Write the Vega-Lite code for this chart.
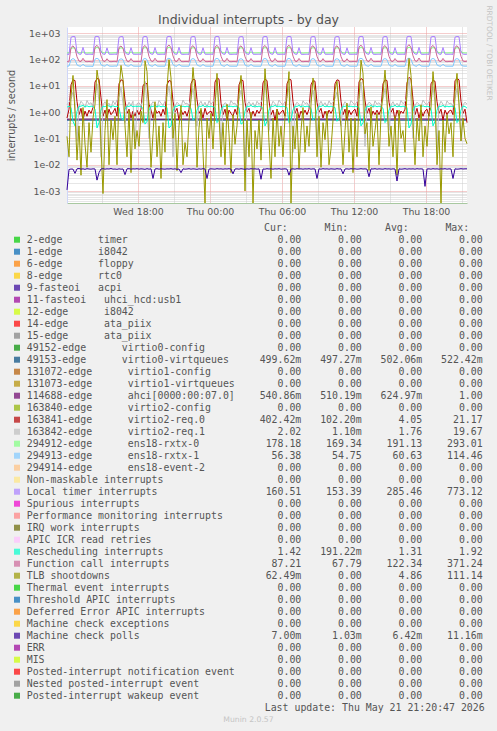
{
  "$schema": "https://vega.github.io/schema/vega-lite/v6.json",
  "width": 400,
  "height": 176,
  "autosize": {"type": "none"},
  "padding": {"left": 67, "top": 27, "right": 30, "bottom": 528},
  "background": "#F0F0F0",
  "title": {"text": "Individual interrupts - by day", "font": "DejaVu Sans", "fontSize": 12.5, "fontWeight": "normal", "color": "#505050", "anchor": "middle", "frame": "group", "baseline": "alphabetic", "offset": 4, "dx": -18.5, "dy": 36},
  "config": {"view": {"fill": "#FFFFFF", "stroke": null}},
  "datasets": {
    "flat": [
      {"t":"2026-05-20T12:05","v0":0.50,"ah":0.54},
      {"t":"2026-05-20T16:05","v0":0.50,"ah":0.55},
      {"t":"2026-05-20T20:05","v0":0.51,"ah":0.54},
      {"t":"2026-05-21T00:05","v0":0.50,"ah":0.55},
      {"t":"2026-05-21T04:05","v0":0.50,"ah":0.54},
      {"t":"2026-05-21T08:05","v0":0.51,"ah":0.55},
      {"t":"2026-05-21T12:05","v0":0.50,"ah":0.54},
      {"t":"2026-05-21T16:05","v0":0.50,"ah":0.55},
      {"t":"2026-05-21T21:25","v0":0.50,"ah":0.54}
    ],
    "main": [
      {"t":"2026-05-20T12:05","lt":161,"rx0":181,"fc":84,"rx1":56,"r0":0.6,"r1":1.9,"rs":1.55,"tlb":0.12,"mc":0.0011},
      {"t":"2026-05-20T12:15","lt":158,"rx0":178,"fc":82,"rx1":57,"r0":1.3,"r1":2.4,"rs":1.7,"tlb":0.02,"mc":0.0066},
      {"t":"2026-05-20T12:25","lt":705,"rx0":262,"fc":285,"rx1":98,"r0":11,"r1":3.2,"rs":1.5,"tlb":4,"mc":0.0069},
      {"t":"2026-05-20T12:35","lt":760,"rx0":284,"fc":335,"rx1":110,"r0":17,"r1":6,"rs":0.45,"tlb":25,"mc":0.0068},
      {"t":"2026-05-20T12:45","lt":745,"rx0":268,"fc":265,"rx1":99,"r0":16,"r1":2.2,"rs":0.3,"tlb":0.9,"mc":0.0047},
      {"t":"2026-05-20T12:55","lt":188,"rx0":204,"fc":128,"rx1":63,"r0":2.5,"r1":0.08,"rs":1.1,"tlb":0.015,"mc":0.0070},
      {"t":"2026-05-20T13:05","lt":162,"rx0":183,"fc":88,"rx1":57,"r0":0.8,"r1":1.7,"rs":1.65,"tlb":0.3,"mc":0.0072},
      {"t":"2026-05-20T13:15","lt":159,"rx0":179,"fc":84,"rx1":56,"r0":1.4,"r1":2.6,"rs":1.7,"tlb":0.004,"mc":0.0068},
      {"t":"2026-05-20T13:25","lt":292,"rx0":197,"fc":112,"rx1":67,"r0":0.5,"r1":2.1,"rs":1.8,"tlb":1.5,"mc":0.0070},
      {"t":"2026-05-20T13:35","lt":163,"rx0":182,"fc":86,"rx1":57,"r0":1.1,"r1":1.5,"rs":1.6,"tlb":0.06,"mc":0.0067},
      {"t":"2026-05-20T13:45","lt":158,"rx0":177,"fc":83,"rx1":56,"r0":0.7,"r1":2.8,"rs":1.75,"tlb":0.008,"mc":0.0071},
      {"t":"2026-05-20T13:55","lt":161,"rx0":180,"fc":85,"rx1":56,"r0":1.2,"r1":2.0,"rs":1.6,"tlb":0.4,"mc":0.0069},
      {"t":"2026-05-20T14:05","lt":160,"rx0":179,"fc":83,"rx1":56,"r0":0.9,"r1":2.3,"rs":1.7,"tlb":0.03,"mc":0.0068},
      {"t":"2026-05-20T14:15","lt":157,"rx0":177,"fc":81,"rx1":55,"r0":1.5,"r1":1.6,"rs":1.65,"tlb":0.6,"mc":0.0070},
      {"t":"2026-05-20T14:25","lt":740,"rx0":270,"fc":300,"rx1":104,"r0":14,"r1":4.5,"rs":1.3,"tlb":2,"mc":0.0069},
      {"t":"2026-05-20T14:35","lt":770,"rx0":290,"fc":350,"rx1":112,"r0":19,"r1":12,"rs":0.25,"tlb":40,"mc":0.0026},
      {"t":"2026-05-20T14:45","lt":730,"rx0":275,"fc":280,"rx1":101,"r0":18,"r1":2.6,"rs":0.4,"tlb":12,"mc":0.0050},
      {"t":"2026-05-20T14:55","lt":195,"rx0":210,"fc":140,"rx1":64,"r0":3.5,"r1":0.02,"rs":1.2,"tlb":0.05,"mc":0.0069},
      {"t":"2026-05-20T15:05","lt":163,"rx0":184,"fc":90,"rx1":58,"r0":0.7,"r1":1.9,"rs":1.7,"tlb":0.0008,"mc":0.0071},
      {"t":"2026-05-20T15:15","lt":158,"rx0":178,"fc":84,"rx1":56,"r0":1.2,"r1":2.5,"rs":1.6,"tlb":0.2,"mc":0.0068},
      {"t":"2026-05-20T15:25","lt":280,"rx0":194,"fc":108,"rx1":66,"r0":0.6,"r1":1.8,"rs":1.85,"tlb":3,"mc":0.0070},
      {"t":"2026-05-20T15:35","lt":161,"rx0":181,"fc":86,"rx1":57,"r0":1.3,"r1":2.2,"rs":1.7,"tlb":0.01,"mc":0.0069},
      {"t":"2026-05-20T15:45","lt":159,"rx0":178,"fc":83,"rx1":56,"r0":0.8,"r1":1.4,"rs":1.6,"tlb":0.5,"mc":0.0072},
      {"t":"2026-05-20T15:55","lt":160,"rx0":180,"fc":85,"rx1":56,"r0":1.0,"r1":2.7,"rs":1.75,"tlb":0.09,"mc":0.0068},
      {"t":"2026-05-20T16:05","lt":162,"rx0":182,"fc":86,"rx1":57,"r0":1.4,"r1":2.0,"rs":1.6,"tlb":0.7,"mc":0.0069},
      {"t":"2026-05-20T16:15","lt":158,"rx0":178,"fc":82,"rx1":56,"r0":0.7,"r1":2.9,"rs":1.7,"tlb":0.01,"mc":0.0067},
      {"t":"2026-05-20T16:25","lt":700,"rx0":260,"fc":290,"rx1":97,"r0":12,"r1":3.8,"rs":1.5,"tlb":6,"mc":0.0070},
      {"t":"2026-05-20T16:35","lt":755,"rx0":282,"fc":330,"rx1":108,"r0":17,"r1":9,"rs":0.6,"tlb":60,"mc":0.0068},
      {"t":"2026-05-20T16:45","lt":740,"rx0":270,"fc":270,"rx1":100,"r0":16,"r1":2.1,"rs":0.5,"tlb":18,"mc":0.0069},
      {"t":"2026-05-20T16:55","lt":185,"rx0":202,"fc":135,"rx1":62,"r0":2.8,"r1":0.4,"rs":1.3,"tlb":0.3,"mc":0.0042},
      {"t":"2026-05-20T17:05","lt":161,"rx0":182,"fc":87,"rx1":57,"r0":0.9,"r1":1.6,"rs":1.7,"tlb":0.02,"mc":0.0070},
      {"t":"2026-05-20T17:15","lt":157,"rx0":177,"fc":83,"rx1":56,"r0":1.3,"r1":2.4,"rs":1.65,"tlb":1.2,"mc":0.0071},
      {"t":"2026-05-20T17:25","lt":285,"rx0":196,"fc":110,"rx1":66,"r0":0.6,"r1":1.8,"rs":1.8,"tlb":0.005,"mc":0.0068},
      {"t":"2026-05-20T17:35","lt":162,"rx0":181,"fc":85,"rx1":57,"r0":1.1,"r1":2.6,"rs":1.6,"tlb":0.8,"mc":0.0070},
      {"t":"2026-05-20T17:45","lt":159,"rx0":178,"fc":84,"rx1":56,"r0":0.7,"r1":0.05,"rs":1.7,"tlb":0.04,"mc":0.0069},
      {"t":"2026-05-20T17:55","lt":160,"rx0":180,"fc":85,"rx1":56,"r0":1.2,"r1":2.1,"rs":1.65,"tlb":0.2,"mc":0.0071},
      {"t":"2026-05-20T18:05","lt":161,"rx0":181,"fc":85,"rx1":56,"r0":0.8,"r1":2.3,"rs":1.7,"tlb":0.05,"mc":0.0068},
      {"t":"2026-05-20T18:15","lt":158,"rx0":177,"fc":82,"rx1":56,"r0":1.3,"r1":1.7,"rs":1.6,"tlb":1.1,"mc":0.0070},
      {"t":"2026-05-20T18:25","lt":720,"rx0":268,"fc":295,"rx1":102,"r0":10,"r1":3,"rs":1.4,"tlb":0.4,"mc":0.0069},
      {"t":"2026-05-20T18:35","lt":765,"rx0":288,"fc":345,"rx1":111,"r0":13,"r1":15,"rs":0.35,"tlb":90,"mc":0.0067},
      {"t":"2026-05-20T18:45","lt":735,"rx0":272,"fc":275,"rx1":100,"r0":12,"r1":2.4,"rs":0.45,"tlb":35,"mc":0.0071},
      {"t":"2026-05-20T18:55","lt":190,"rx0":206,"fc":132,"rx1":63,"r0":2,"r1":0.1,"rs":1.2,"tlb":0.6,"mc":0.0068},
      {"t":"2026-05-20T19:05","lt":163,"rx0":183,"fc":89,"rx1":57,"r0":1.2,"r1":1.9,"rs":1.7,"tlb":0.008,"mc":0.0070},
      {"t":"2026-05-20T19:15","lt":159,"rx0":179,"fc":84,"rx1":56,"r0":0.6,"r1":2.5,"rs":1.65,"tlb":0.15,"mc":0.0030},
      {"t":"2026-05-20T19:25","lt":288,"rx0":198,"fc":113,"rx1":67,"r0":1.4,"r1":2.0,"rs":1.8,"tlb":2.5,"mc":0.0069},
      {"t":"2026-05-20T19:35","lt":162,"rx0":182,"fc":86,"rx1":57,"r0":0.9,"r1":1.5,"rs":1.6,"tlb":0.02,"mc":0.0071},
      {"t":"2026-05-20T19:45","lt":158,"rx0":177,"fc":83,"rx1":56,"r0":1.1,"r1":2.8,"rs":1.75,"tlb":0.3,"mc":0.0068},
      {"t":"2026-05-20T19:55","lt":160,"rx0":180,"fc":85,"rx1":56,"r0":0.7,"r1":2.2,"rs":1.6,"tlb":0.003,"mc":0.0070},
      {"t":"2026-05-20T20:05","lt":161,"rx0":181,"fc":85,"rx1":56,"r0":1.3,"r1":1.8,"rs":1.7,"tlb":0.4,"mc":0.0069},
      {"t":"2026-05-20T20:15","lt":158,"rx0":178,"fc":82,"rx1":56,"r0":0.8,"r1":2.6,"rs":1.6,"tlb":0.03,"mc":0.0068},
      {"t":"2026-05-20T20:25","lt":730,"rx0":272,"fc":305,"rx1":105,"r0":11,"r1":4,"rs":1.5,"tlb":8,"mc":0.0070},
      {"t":"2026-05-20T20:35","lt":770,"rx0":292,"fc":360,"rx1":113,"r0":16,"r1":10,"rs":0.25,"tlb":100,"mc":0.0069},
      {"t":"2026-05-20T20:45","lt":745,"rx0":274,"fc":285,"rx1":102,"r0":15,"r1":2.5,"rs":0.3,"tlb":20,"mc":0.0071},
      {"t":"2026-05-20T20:55","lt":192,"rx0":208,"fc":138,"rx1":64,"r0":2.6,"r1":0.02,"rs":1.1,"tlb":0.1,"mc":0.0068},
      {"t":"2026-05-20T21:05","lt":162,"rx0":183,"fc":88,"rx1":57,"r0":1.0,"r1":1.7,"rs":1.7,"tlb":0.9,"mc":0.0070},
      {"t":"2026-05-20T21:15","lt":159,"rx0":178,"fc":84,"rx1":56,"r0":1.4,"r1":2.4,"rs":1.65,"tlb":0.006,"mc":0.0067},
      {"t":"2026-05-20T21:25","lt":295,"rx0":199,"fc":114,"rx1":67,"r0":0.5,"r1":2.0,"rs":1.85,"tlb":0.3,"mc":0.0069},
      {"t":"2026-05-20T21:35","lt":163,"rx0":182,"fc":86,"rx1":57,"r0":1.2,"r1":1.6,"rs":1.6,"tlb":1.8,"mc":0.0050},
      {"t":"2026-05-20T21:45","lt":158,"rx0":177,"fc":83,"rx1":56,"r0":0.8,"r1":2.9,"rs":1.7,"tlb":0.01,"mc":0.0070},
      {"t":"2026-05-20T21:55","lt":160,"rx0":180,"fc":85,"rx1":56,"r0":1.1,"r1":2.1,"rs":1.6,"tlb":0.07,"mc":0.0068},
      {"t":"2026-05-20T22:05","lt":161,"rx0":181,"fc":85,"rx1":56,"r0":0.7,"r1":2.2,"rs":1.7,"tlb":0.02,"mc":0.0069},
      {"t":"2026-05-20T22:15","lt":158,"rx0":178,"fc":82,"rx1":56,"r0":1.3,"r1":1.8,"rs":1.6,"tlb":0.5,"mc":0.0071},
      {"t":"2026-05-20T22:25","lt":715,"rx0":266,"fc":292,"rx1":101,"r0":12,"r1":3.5,"rs":1.4,"tlb":3,"mc":0.0068},
      {"t":"2026-05-20T22:35","lt":760,"rx0":286,"fc":340,"rx1":110,"r0":18,"r1":8,"rs":0.5,"tlb":50,"mc":0.0070},
      {"t":"2026-05-20T22:45","lt":740,"rx0":270,"fc":272,"rx1":100,"r0":17,"r1":2.3,"rs":0.6,"tlb":6,"mc":0.0069},
      {"t":"2026-05-20T22:55","lt":187,"rx0":204,"fc":130,"rx1":63,"r0":3,"r1":0.3,"rs":1.2,"tlb":0.008,"mc":0.0067},
      {"t":"2026-05-20T23:05","lt":162,"rx0":183,"fc":88,"rx1":57,"r0":0.9,"r1":2.0,"rs":1.7,"tlb":0.25,"mc":0.0070},
      {"t":"2026-05-20T23:15","lt":158,"rx0":178,"fc":84,"rx1":56,"r0":1.2,"r1":2.6,"rs":1.65,"tlb":1.4,"mc":0.0068},
      {"t":"2026-05-20T23:25","lt":283,"rx0":195,"fc":109,"rx1":66,"r0":0.6,"r1":1.7,"rs":1.8,"tlb":0.03,"mc":0.0071},
      {"t":"2026-05-20T23:35","lt":161,"rx0":181,"fc":86,"rx1":57,"r0":1.4,"r1":2.4,"rs":1.6,"tlb":0.0002,"mc":0.0069},
      {"t":"2026-05-20T23:45","lt":159,"rx0":178,"fc":83,"rx1":56,"r0":0.8,"r1":1.5,"rs":1.75,"tlb":0.6,"mc":0.0030},
      {"t":"2026-05-20T23:55","lt":160,"rx0":180,"fc":85,"rx1":56,"r0":1.0,"r1":2.7,"rs":1.6,"tlb":0.1,"mc":0.0068},
      {"t":"2026-05-21T00:05","lt":161,"rx0":181,"fc":85,"rx1":56,"r0":1.1,"r1":2.0,"rs":1.7,"tlb":0.9,"mc":0.0070},
      {"t":"2026-05-21T00:15","lt":158,"rx0":177,"fc":82,"rx1":56,"r0":0.7,"r1":2.5,"rs":1.6,"tlb":0.04,"mc":0.0069},
      {"t":"2026-05-21T00:25","lt":725,"rx0":270,"fc":298,"rx1":103,"r0":14,"r1":3.2,"rs":1.5,"tlb":1.5,"mc":0.0068},
      {"t":"2026-05-21T00:35","lt":768,"rx0":289,"fc":350,"rx1":112,"r0":20,"r1":11,"rs":0.4,"tlb":30,"mc":0.0071},
      {"t":"2026-05-21T00:45","lt":738,"rx0":272,"fc":278,"rx1":101,"r0":18,"r1":2.4,"rs":0.5,"tlb":0.7,"mc":0.0069},
      {"t":"2026-05-21T00:55","lt":190,"rx0":205,"fc":134,"rx1":63,"r0":2.2,"r1":0.06,"rs":1.2,"tlb":0.02,"mc":0.0070},
      {"t":"2026-05-21T01:05","lt":163,"rx0":183,"fc":89,"rx1":57,"r0":0.8,"r1":1.8,"rs":1.7,"tlb":0.4,"mc":0.0068},
      {"t":"2026-05-21T01:15","lt":159,"rx0":178,"fc":84,"rx1":56,"r0":1.3,"r1":2.3,"rs":1.65,"tlb":0.01,"mc":0.0070},
      {"t":"2026-05-21T01:25","lt":290,"rx0":197,"fc":112,"rx1":67,"r0":0.5,"r1":2.0,"rs":1.8,"tlb":2,"mc":0.0069},
      {"t":"2026-05-21T01:35","lt":162,"rx0":182,"fc":86,"rx1":57,"r0":1.2,"r1":1.6,"rs":1.6,"tlb":0.15,"mc":0.0071},
      {"t":"2026-05-21T01:45","lt":158,"rx0":177,"fc":83,"rx1":56,"r0":0.9,"r1":2.8,"rs":1.7,"tlb":0.005,"mc":0.0068},
      {"t":"2026-05-21T01:55","lt":160,"rx0":180,"fc":85,"rx1":56,"r0":0.7,"r1":2.1,"rs":1.6,"tlb":0.8,"mc":0.0045},
      {"t":"2026-05-21T02:05","lt":161,"rx0":181,"fc":85,"rx1":56,"r0":1.3,"r1":2.2,"rs":1.7,"tlb":0.06,"mc":0.0069},
      {"t":"2026-05-21T02:15","lt":158,"rx0":178,"fc":82,"rx1":56,"r0":0.8,"r1":1.7,"rs":1.6,"tlb":0.3,"mc":0.0070},
      {"t":"2026-05-21T02:25","lt":710,"rx0":264,"fc":290,"rx1":100,"r0":11,"r1":3,"rs":1.5,"tlb":5,"mc":0.0068},
      {"t":"2026-05-21T02:35","lt":755,"rx0":284,"fc":335,"rx1":109,"r0":17,"r1":7,"rs":0.35,"tlb":25,"mc":0.0071},
      {"t":"2026-05-21T02:45","lt":735,"rx0":270,"fc":268,"rx1":99,"r0":16,"r1":2.2,"rs":0.4,"tlb":2,"mc":0.0069},
      {"t":"2026-05-21T02:55","lt":186,"rx0":203,"fc":128,"rx1":62,"r0":2.4,"r1":0.01,"rs":1.1,"tlb":0.001,"mc":0.0067},
      {"t":"2026-05-21T03:05","lt":162,"rx0":182,"fc":87,"rx1":57,"r0":1.0,"r1":1.9,"rs":1.7,"tlb":0.5,"mc":0.0070},
      {"t":"2026-05-21T03:15","lt":158,"rx0":178,"fc":84,"rx1":56,"r0":1.4,"r1":2.5,"rs":1.65,"tlb":0.02,"mc":0.0068},
      {"t":"2026-05-21T03:25","lt":286,"rx0":196,"fc":110,"rx1":66,"r0":0.6,"r1":1.8,"rs":1.8,"tlb":1,"mc":0.0071},
      {"t":"2026-05-21T03:35","lt":161,"rx0":181,"fc":85,"rx1":57,"r0":1.1,"r1":2.3,"rs":1.6,"tlb":0.0002,"mc":0.0069},
      {"t":"2026-05-21T03:45","lt":159,"rx0":178,"fc":83,"rx1":56,"r0":0.7,"r1":1.5,"rs":1.75,"tlb":0.2,"mc":0.0070},
      {"t":"2026-05-21T03:55","lt":160,"rx0":180,"fc":85,"rx1":56,"r0":1.2,"r1":2.6,"rs":1.6,"tlb":0.04,"mc":0.0068},
      {"t":"2026-05-21T04:05","lt":161,"rx0":181,"fc":85,"rx1":56,"r0":0.9,"r1":2.0,"rs":1.7,"tlb":0.5,"mc":0.0070},
      {"t":"2026-05-21T04:15","lt":158,"rx0":177,"fc":82,"rx1":56,"r0":1.3,"r1":2.4,"rs":1.6,"tlb":0.015,"mc":0.0028},
      {"t":"2026-05-21T04:25","lt":722,"rx0":268,"fc":296,"rx1":102,"r0":13,"r1":3.4,"rs":1.4,"tlb":0.8,"mc":0.0069},
      {"t":"2026-05-21T04:35","lt":762,"rx0":287,"fc":345,"rx1":111,"r0":18,"r1":13,"rs":0.3,"tlb":45,"mc":0.0068},
      {"t":"2026-05-21T04:45","lt":742,"rx0":272,"fc":276,"rx1":101,"r0":16,"r1":2.5,"rs":0.45,"tlb":3,"mc":0.0071},
      {"t":"2026-05-21T04:55","lt":189,"rx0":205,"fc":133,"rx1":63,"r0":2.7,"r1":0.2,"rs":1.2,"tlb":0.07,"mc":0.0069},
      {"t":"2026-05-21T05:05","lt":163,"rx0":183,"fc":88,"rx1":57,"r0":0.8,"r1":1.7,"rs":1.7,"tlb":0.003,"mc":0.0070},
      {"t":"2026-05-21T05:15","lt":159,"rx0":178,"fc":84,"rx1":56,"r0":1.2,"r1":2.6,"rs":1.65,"tlb":0.6,"mc":0.0068},
      {"t":"2026-05-21T05:25","lt":289,"rx0":197,"fc":111,"rx1":67,"r0":0.5,"r1":2.1,"rs":1.8,"tlb":0.02,"mc":0.0070},
      {"t":"2026-05-21T05:35","lt":162,"rx0":182,"fc":86,"rx1":57,"r0":1.3,"r1":1.6,"rs":1.6,"tlb":1.3,"mc":0.0069},
      {"t":"2026-05-21T05:45","lt":158,"rx0":177,"fc":83,"rx1":56,"r0":0.8,"r1":2.9,"rs":1.7,"tlb":0.05,"mc":0.0071},
      {"t":"2026-05-21T05:55","lt":160,"rx0":180,"fc":85,"rx1":56,"r0":1.0,"r1":2.2,"rs":1.6,"tlb":0.3,"mc":0.0068},
      {"t":"2026-05-21T06:05","lt":161,"rx0":181,"fc":85,"rx1":56,"r0":1.2,"r1":1.9,"rs":1.7,"tlb":0.02,"mc":0.0069},
      {"t":"2026-05-21T06:15","lt":158,"rx0":178,"fc":82,"rx1":56,"r0":0.7,"r1":2.5,"rs":1.6,"tlb":0.7,"mc":0.0070},
      {"t":"2026-05-21T06:25","lt":728,"rx0":270,"fc":300,"rx1":103,"r0":12,"r1":3.6,"rs":1.5,"tlb":4,"mc":0.0068},
      {"t":"2026-05-21T06:35","lt":765,"rx0":289,"fc":352,"rx1":112,"r0":18,"r1":9,"rs":0.4,"tlb":35,"mc":0.0040},
      {"t":"2026-05-21T06:45","lt":740,"rx0":272,"fc":280,"rx1":101,"r0":17,"r1":2.3,"rs":0.5,"tlb":0.0002,"mc":0.0069},
      {"t":"2026-05-21T06:55","lt":191,"rx0":206,"fc":136,"rx1":63,"r0":2.5,"r1":0.03,"rs":1.2,"tlb":0.3,"mc":0.0070},
      {"t":"2026-05-21T07:05","lt":162,"rx0":183,"fc":88,"rx1":57,"r0":0.9,"r1":1.8,"rs":1.7,"tlb":0.04,"mc":0.0068},
      {"t":"2026-05-21T07:15","lt":159,"rx0":178,"fc":84,"rx1":56,"r0":1.4,"r1":2.4,"rs":1.65,"tlb":0.9,"mc":0.0071},
      {"t":"2026-05-21T07:25","lt":287,"rx0":196,"fc":111,"rx1":66,"r0":0.6,"r1":2.0,"rs":1.8,"tlb":0.007,"mc":0.0069},
      {"t":"2026-05-21T07:35","lt":161,"rx0":181,"fc":86,"rx1":57,"r0":1.1,"r1":1.5,"rs":1.6,"tlb":0.2,"mc":0.0070},
      {"t":"2026-05-21T07:45","lt":158,"rx0":177,"fc":83,"rx1":56,"r0":0.8,"r1":2.7,"rs":1.75,"tlb":1.5,"mc":0.0068},
      {"t":"2026-05-21T07:55","lt":160,"rx0":180,"fc":85,"rx1":56,"r0":1.2,"r1":2.1,"rs":1.6,"tlb":0.03,"mc":0.0070},
      {"t":"2026-05-21T08:05","lt":161,"rx0":181,"fc":85,"rx1":56,"r0":0.8,"r1":2.3,"rs":1.7,"tlb":0.3,"mc":0.0069},
      {"t":"2026-05-21T08:15","lt":158,"rx0":178,"fc":82,"rx1":56,"r0":1.3,"r1":1.7,"rs":1.6,"tlb":0.05,"mc":0.0071},
      {"t":"2026-05-21T08:25","lt":718,"rx0":266,"fc":294,"rx1":101,"r0":11,"r1":3.1,"rs":1.4,"tlb":2,"mc":0.0068},
      {"t":"2026-05-21T08:35","lt":758,"rx0":285,"fc":338,"rx1":110,"r0":16,"r1":7,"rs":0.5,"tlb":20,"mc":0.0070},
      {"t":"2026-05-21T08:45","lt":738,"rx0":270,"fc":270,"rx1":100,"r0":15,"r1":2.2,"rs":0.6,"tlb":6,"mc":0.0069},
      {"t":"2026-05-21T08:55","lt":188,"rx0":204,"fc":131,"rx1":63,"r0":2.3,"r1":0.08,"rs":1.2,"tlb":0.02,"mc":0.0030},
      {"t":"2026-05-21T09:05","lt":162,"rx0":183,"fc":88,"rx1":57,"r0":1.0,"r1":1.9,"rs":1.7,"tlb":0.7,"mc":0.0070},
      {"t":"2026-05-21T09:15","lt":158,"rx0":178,"fc":84,"rx1":56,"r0":1.4,"r1":2.6,"rs":1.65,"tlb":0.008,"mc":0.0068},
      {"t":"2026-05-21T09:25","lt":284,"rx0":195,"fc":109,"rx1":66,"r0":0.6,"r1":1.8,"rs":1.8,"tlb":0.4,"mc":0.0071},
      {"t":"2026-05-21T09:35","lt":161,"rx0":181,"fc":85,"rx1":57,"r0":1.1,"r1":2.3,"rs":1.6,"tlb":0.09,"mc":0.0069},
      {"t":"2026-05-21T09:45","lt":159,"rx0":178,"fc":83,"rx1":56,"r0":0.7,"r1":1.6,"rs":1.7,"tlb":1.1,"mc":0.0070},
      {"t":"2026-05-21T09:55","lt":160,"rx0":180,"fc":85,"rx1":56,"r0":1.2,"r1":2.7,"rs":1.6,"tlb":0.01,"mc":0.0068},
      {"t":"2026-05-21T10:05","lt":161,"rx0":181,"fc":85,"rx1":56,"r0":0.9,"r1":2.0,"rs":1.7,"tlb":0.04,"mc":0.0070},
      {"t":"2026-05-21T10:15","lt":158,"rx0":177,"fc":82,"rx1":56,"r0":1.3,"r1":2.4,"rs":1.6,"tlb":0.5,"mc":0.0069},
      {"t":"2026-05-21T10:25","lt":712,"rx0":265,"fc":292,"rx1":100,"r0":12,"r1":3.3,"rs":1.5,"tlb":7,"mc":0.0068},
      {"t":"2026-05-21T10:35","lt":755,"rx0":284,"fc":335,"rx1":109,"r0":17,"r1":6,"rs":0.45,"tlb":15,"mc":0.0071},
      {"t":"2026-05-21T10:45","lt":736,"rx0":270,"fc":268,"rx1":99,"r0":16,"r1":2.1,"rs":0.55,"tlb":1.2,"mc":0.0069},
      {"t":"2026-05-21T10:55","lt":186,"rx0":203,"fc":129,"rx1":62,"r0":2.6,"r1":0.3,"rs":1.2,"tlb":0.3,"mc":0.0070},
      {"t":"2026-05-21T11:05","lt":162,"rx0":182,"fc":87,"rx1":57,"r0":0.8,"r1":1.8,"rs":1.7,"tlb":0.01,"mc":0.0045},
      {"t":"2026-05-21T11:15","lt":158,"rx0":178,"fc":84,"rx1":56,"r0":1.3,"r1":2.5,"rs":1.65,"tlb":0.2,"mc":0.0069},
      {"t":"2026-05-21T11:25","lt":282,"rx0":195,"fc":108,"rx1":66,"r0":0.5,"r1":2.0,"rs":1.8,"tlb":2.2,"mc":0.0070},
      {"t":"2026-05-21T11:35","lt":161,"rx0":181,"fc":85,"rx1":57,"r0":1.2,"r1":1.6,"rs":1.6,"tlb":0.03,"mc":0.0068},
      {"t":"2026-05-21T11:45","lt":159,"rx0":178,"fc":83,"rx1":56,"r0":0.8,"r1":2.8,"rs":1.7,"tlb":0.6,"mc":0.0071},
      {"t":"2026-05-21T11:55","lt":160,"rx0":180,"fc":85,"rx1":56,"r0":1.1,"r1":2.2,"rs":1.6,"tlb":0.005,"mc":0.0069},
      {"t":"2026-05-21T12:05","lt":161,"rx0":181,"fc":85,"rx1":56,"r0":1.3,"r1":1.9,"rs":1.7,"tlb":0.6,"mc":0.0070},
      {"t":"2026-05-21T12:15","lt":158,"rx0":178,"fc":82,"rx1":56,"r0":0.7,"r1":2.5,"rs":1.6,"tlb":0.02,"mc":0.0068},
      {"t":"2026-05-21T12:25","lt":725,"rx0":270,"fc":300,"rx1":104,"r0":14,"r1":3.5,"rs":1.5,"tlb":3,"mc":0.0069},
      {"t":"2026-05-21T12:35","lt":768,"rx0":290,"fc":355,"rx1":113,"r0":19,"r1":14,"rs":0.3,"tlb":95,"mc":0.0071},
      {"t":"2026-05-21T12:45","lt":742,"rx0":274,"fc":282,"rx1":102,"r0":17,"r1":2.6,"rs":0.4,"tlb":30,"mc":0.0069},
      {"t":"2026-05-21T12:55","lt":191,"rx0":207,"fc":137,"rx1":64,"r0":2.8,"r1":0.05,"rs":1.1,"tlb":0.15,"mc":0.0070},
      {"t":"2026-05-21T13:05","lt":163,"rx0":183,"fc":89,"rx1":57,"r0":0.9,"r1":1.8,"rs":1.7,"tlb":0.4,"mc":0.0068},
      {"t":"2026-05-21T13:15","lt":159,"rx0":178,"fc":84,"rx1":56,"r0":1.4,"r1":2.4,"rs":1.65,"tlb":0.006,"mc":0.0035},
      {"t":"2026-05-21T13:25","lt":291,"rx0":198,"fc":113,"rx1":67,"r0":0.6,"r1":2.1,"rs":1.8,"tlb":1.6,"mc":0.0070},
      {"t":"2026-05-21T13:35","lt":162,"rx0":182,"fc":86,"rx1":57,"r0":1.1,"r1":1.5,"rs":1.6,"tlb":0.05,"mc":0.0069},
      {"t":"2026-05-21T13:45","lt":158,"rx0":177,"fc":83,"rx1":56,"r0":0.8,"r1":2.7,"rs":1.75,"tlb":0.2,"mc":0.0071},
      {"t":"2026-05-21T13:55","lt":160,"rx0":180,"fc":85,"rx1":56,"r0":1.2,"r1":2.0,"rs":1.6,"tlb":0.9,"mc":0.0068},
      {"t":"2026-05-21T14:05","lt":161,"rx0":181,"fc":85,"rx1":56,"r0":0.8,"r1":2.3,"rs":1.7,"tlb":0.01,"mc":0.0070},
      {"t":"2026-05-21T14:15","lt":158,"rx0":178,"fc":82,"rx1":56,"r0":1.3,"r1":1.8,"rs":1.6,"tlb":0.8,"mc":0.0069},
      {"t":"2026-05-21T14:25","lt":715,"rx0":267,"fc":293,"rx1":101,"r0":12,"r1":3.2,"rs":1.4,"tlb":5,"mc":0.0068},
      {"t":"2026-05-21T14:35","lt":760,"rx0":286,"fc":342,"rx1":110,"r0":17,"r1":8,"rs":0.4,"tlb":40,"mc":0.0071},
      {"t":"2026-05-21T14:45","lt":738,"rx0":271,"fc":272,"rx1":100,"r0":16,"r1":2.3,"rs":0.5,"tlb":3,"mc":0.0069},
      {"t":"2026-05-21T14:55","lt":188,"rx0":204,"fc":132,"rx1":63,"r0":2.4,"r1":0.2,"rs":1.2,"tlb":0.05,"mc":0.0070},
      {"t":"2026-05-21T15:05","lt":162,"rx0":183,"fc":88,"rx1":57,"r0":1.0,"r1":1.9,"rs":1.7,"tlb":0.3,"mc":0.0068},
      {"t":"2026-05-21T15:15","lt":158,"rx0":178,"fc":84,"rx1":56,"r0":1.4,"r1":2.5,"rs":1.65,"tlb":0.02,"mc":0.0070},
      {"t":"2026-05-21T15:25","lt":286,"rx0":196,"fc":110,"rx1":66,"r0":0.5,"r1":1.7,"rs":1.8,"tlb":0.7,"mc":0.0069},
      {"t":"2026-05-21T15:35","lt":161,"rx0":181,"fc":86,"rx1":57,"r0":1.2,"r1":2.2,"rs":1.6,"tlb":0.004,"mc":0.0024},
      {"t":"2026-05-21T15:45","lt":159,"rx0":178,"fc":83,"rx1":56,"r0":0.7,"r1":1.6,"rs":1.7,"tlb":1.2,"mc":0.0070},
      {"t":"2026-05-21T15:55","lt":160,"rx0":180,"fc":85,"rx1":56,"r0":1.1,"r1":2.8,"rs":1.6,"tlb":0.1,"mc":0.0068},
      {"t":"2026-05-21T16:05","lt":161,"rx0":181,"fc":85,"rx1":56,"r0":0.9,"r1":2.1,"rs":1.7,"tlb":0.2,"mc":0.0069},
      {"t":"2026-05-21T16:15","lt":158,"rx0":177,"fc":82,"rx1":56,"r0":1.3,"r1":2.5,"rs":1.6,"tlb":0.03,"mc":0.0071},
      {"t":"2026-05-21T16:25","lt":735,"rx0":272,"fc":305,"rx1":105,"r0":13,"r1":3.8,"rs":1.5,"tlb":9,"mc":0.0068},
      {"t":"2026-05-21T16:35","lt":773,"rx0":293,"fc":371,"rx1":114,"r0":21,"r1":19.6,"rs":0.25,"tlb":111,"mc":0.0070},
      {"t":"2026-05-21T16:45","lt":748,"rx0":276,"fc":290,"rx1":103,"r0":18,"r1":2.7,"rs":0.35,"tlb":25,"mc":0.0069},
      {"t":"2026-05-21T16:55","lt":194,"rx0":209,"fc":140,"rx1":64,"r0":3,"r1":0.1,"rs":1.1,"tlb":0.4,"mc":0.0070},
      {"t":"2026-05-21T17:05","lt":163,"rx0":184,"fc":90,"rx1":57,"r0":0.8,"r1":1.8,"rs":1.7,"tlb":0.01,"mc":0.0068},
      {"t":"2026-05-21T17:15","lt":159,"rx0":179,"fc":85,"rx1":56,"r0":1.4,"r1":2.4,"rs":1.65,"tlb":0.6,"mc":0.0071},
      {"t":"2026-05-21T17:25","lt":293,"rx0":199,"fc":115,"rx1":67,"r0":0.6,"r1":2.0,"rs":1.8,"tlb":0.08,"mc":0.0069},
      {"t":"2026-05-21T17:35","lt":162,"rx0":182,"fc":86,"rx1":57,"r0":1.2,"r1":1.6,"rs":1.6,"tlb":1.9,"mc":0.0070},
      {"t":"2026-05-21T17:45","lt":158,"rx0":177,"fc":83,"rx1":56,"r0":0.7,"r1":2.9,"rs":1.75,"tlb":0.02,"mc":0.0068},
      {"t":"2026-05-21T17:55","lt":160,"rx0":180,"fc":85,"rx1":56,"r0":1.1,"r1":2.2,"rs":1.6,"tlb":0.3,"mc":0.0015},
      {"t":"2026-05-21T18:05","lt":161,"rx0":181,"fc":85,"rx1":56,"r0":1.3,"r1":1.9,"rs":1.7,"tlb":0.05,"mc":0.0069},
      {"t":"2026-05-21T18:15","lt":158,"rx0":178,"fc":82,"rx1":56,"r0":0.7,"r1":2.5,"rs":1.6,"tlb":0.9,"mc":0.0070},
      {"t":"2026-05-21T18:25","lt":720,"rx0":268,"fc":296,"rx1":102,"r0":12,"r1":3.3,"rs":1.4,"tlb":1.5,"mc":0.0068},
      {"t":"2026-05-21T18:35","lt":762,"rx0":287,"fc":346,"rx1":111,"r0":16,"r1":9,"rs":0.3,"tlb":35,"mc":0.0071},
      {"t":"2026-05-21T18:45","lt":740,"rx0":272,"fc":276,"rx1":101,"r0":15,"r1":2.4,"rs":0.45,"tlb":4,"mc":0.0069},
      {"t":"2026-05-21T18:55","lt":189,"rx0":205,"fc":134,"rx1":63,"r0":2.5,"r1":0.04,"rs":1.2,"tlb":0.01,"mc":0.0070},
      {"t":"2026-05-21T19:05","lt":162,"rx0":183,"fc":88,"rx1":57,"r0":0.9,"r1":1.8,"rs":1.7,"tlb":0.2,"mc":0.0068},
      {"t":"2026-05-21T19:15","lt":158,"rx0":178,"fc":84,"rx1":56,"r0":1.3,"r1":2.6,"rs":1.65,"tlb":0.0002,"mc":0.0070},
      {"t":"2026-05-21T19:25","lt":288,"rx0":197,"fc":111,"rx1":67,"r0":0.5,"r1":2.0,"rs":1.8,"tlb":0.5,"mc":0.0069},
      {"t":"2026-05-21T19:35","lt":161,"rx0":181,"fc":86,"rx1":57,"r0":1.2,"r1":1.5,"rs":1.6,"tlb":0.03,"mc":0.0071},
      {"t":"2026-05-21T19:45","lt":159,"rx0":178,"fc":83,"rx1":56,"r0":0.8,"r1":2.7,"rs":1.7,"tlb":0.8,"mc":0.0068},
      {"t":"2026-05-21T19:55","lt":160,"rx0":180,"fc":85,"rx1":56,"r0":1.1,"r1":2.1,"rs":1.6,"tlb":0.15,"mc":0.0070},
      {"t":"2026-05-21T20:05","lt":161,"rx0":181,"fc":85,"rx1":56,"r0":1.2,"r1":2.2,"rs":1.7,"tlb":0.4,"mc":0.0069},
      {"t":"2026-05-21T20:15","lt":158,"rx0":178,"fc":82,"rx1":56,"r0":0.8,"r1":1.7,"rs":1.6,"tlb":0.02,"mc":0.0030},
      {"t":"2026-05-21T20:25","lt":715,"rx0":266,"fc":292,"rx1":101,"r0":16,"r1":3.1,"rs":1.5,"tlb":6,"mc":0.0070},
      {"t":"2026-05-21T20:35","lt":758,"rx0":285,"fc":338,"rx1":110,"r0":19,"r1":8,"rs":0.4,"tlb":30,"mc":0.0068},
      {"t":"2026-05-21T20:45","lt":738,"rx0":271,"fc":270,"rx1":100,"r0":17,"r1":2.3,"rs":0.5,"tlb":2,"mc":0.0069},
      {"t":"2026-05-21T20:55","lt":190,"rx0":205,"fc":133,"rx1":63,"r0":2.6,"r1":0.08,"rs":1.2,"tlb":0.08,"mc":0.0071},
      {"t":"2026-05-21T21:05","lt":162,"rx0":182,"fc":88,"rx1":57,"r0":0.9,"r1":1.9,"rs":1.7,"tlb":0.6,"mc":0.0069},
      {"t":"2026-05-21T21:15","lt":158,"rx0":178,"fc":84,"rx1":56,"r0":1.3,"r1":2.4,"rs":1.65,"tlb":0.1,"mc":0.0070},
      {"t":"2026-05-21T21:25","lt":160.5,"rx0":178.2,"fc":87.2,"rx1":56.4,"r0":0.4,"r1":2.02,"rs":1.42,"tlb":0.0625,"mc":0.0070}
    ],
    "table": [
      {"label":"2-edge\u00a0\u00a0\u00a0\u00a0\u00a0\u00a0timer","cur":"0.00\u00a0","min":"0.00\u00a0","avg":"0.00\u00a0","max":"0.00\u00a0"},
      {"label":"1-edge\u00a0\u00a0\u00a0\u00a0\u00a0\u00a0i8042","cur":"0.00\u00a0","min":"0.00\u00a0","avg":"0.00\u00a0","max":"0.00\u00a0"},
      {"label":"6-edge\u00a0\u00a0\u00a0\u00a0\u00a0\u00a0floppy","cur":"0.00\u00a0","min":"0.00\u00a0","avg":"0.00\u00a0","max":"0.00\u00a0"},
      {"label":"8-edge\u00a0\u00a0\u00a0\u00a0\u00a0\u00a0rtc0","cur":"0.00\u00a0","min":"0.00\u00a0","avg":"0.00\u00a0","max":"0.00\u00a0"},
      {"label":"9-fasteoi\u00a0\u00a0\u00a0acpi","cur":"0.00\u00a0","min":"0.00\u00a0","avg":"0.00\u00a0","max":"0.00\u00a0"},
      {"label":"11-fasteoi\u00a0\u00a0\u00a0uhci_hcd:usb1","cur":"0.00\u00a0","min":"0.00\u00a0","avg":"0.00\u00a0","max":"0.00\u00a0"},
      {"label":"12-edge\u00a0\u00a0\u00a0\u00a0\u00a0\u00a0i8042","cur":"0.00\u00a0","min":"0.00\u00a0","avg":"0.00\u00a0","max":"0.00\u00a0"},
      {"label":"14-edge\u00a0\u00a0\u00a0\u00a0\u00a0\u00a0ata_piix","cur":"0.00\u00a0","min":"0.00\u00a0","avg":"0.00\u00a0","max":"0.00\u00a0"},
      {"label":"15-edge\u00a0\u00a0\u00a0\u00a0\u00a0\u00a0ata_piix","cur":"0.00\u00a0","min":"0.00\u00a0","avg":"0.00\u00a0","max":"0.00\u00a0"},
      {"label":"49152-edge\u00a0\u00a0\u00a0\u00a0\u00a0\u00a0virtio0-config","cur":"0.00\u00a0","min":"0.00\u00a0","avg":"0.00\u00a0","max":"0.00\u00a0"},
      {"label":"49153-edge\u00a0\u00a0\u00a0\u00a0\u00a0\u00a0virtio0-virtqueues","cur":"499.62m","min":"497.27m","avg":"502.06m","max":"522.42m"},
      {"label":"131072-edge\u00a0\u00a0\u00a0\u00a0\u00a0\u00a0virtio1-config","cur":"0.00\u00a0","min":"0.00\u00a0","avg":"0.00\u00a0","max":"0.00\u00a0"},
      {"label":"131073-edge\u00a0\u00a0\u00a0\u00a0\u00a0\u00a0virtio1-virtqueues","cur":"0.00\u00a0","min":"0.00\u00a0","avg":"0.00\u00a0","max":"0.00\u00a0"},
      {"label":"114688-edge\u00a0\u00a0\u00a0\u00a0\u00a0\u00a0ahci[0000:00:07.0]","cur":"540.86m","min":"510.19m","avg":"624.97m","max":"1.00\u00a0"},
      {"label":"163840-edge\u00a0\u00a0\u00a0\u00a0\u00a0\u00a0virtio2-config","cur":"0.00\u00a0","min":"0.00\u00a0","avg":"0.00\u00a0","max":"0.00\u00a0"},
      {"label":"163841-edge\u00a0\u00a0\u00a0\u00a0\u00a0\u00a0virtio2-req.0","cur":"402.42m","min":"102.20m","avg":"4.05\u00a0","max":"21.17\u00a0"},
      {"label":"163842-edge\u00a0\u00a0\u00a0\u00a0\u00a0\u00a0virtio2-req.1","cur":"2.02\u00a0","min":"1.10m","avg":"1.76\u00a0","max":"19.67\u00a0"},
      {"label":"294912-edge\u00a0\u00a0\u00a0\u00a0\u00a0\u00a0ens18-rxtx-0","cur":"178.18\u00a0","min":"169.34\u00a0","avg":"191.13\u00a0","max":"293.01\u00a0"},
      {"label":"294913-edge\u00a0\u00a0\u00a0\u00a0\u00a0\u00a0ens18-rxtx-1","cur":"56.38\u00a0","min":"54.75\u00a0","avg":"60.63\u00a0","max":"114.46\u00a0"},
      {"label":"294914-edge\u00a0\u00a0\u00a0\u00a0\u00a0\u00a0ens18-event-2","cur":"0.00\u00a0","min":"0.00\u00a0","avg":"0.00\u00a0","max":"0.00\u00a0"},
      {"label":"Non-maskable interrupts","cur":"0.00\u00a0","min":"0.00\u00a0","avg":"0.00\u00a0","max":"0.00\u00a0"},
      {"label":"Local timer interrupts","cur":"160.51\u00a0","min":"153.39\u00a0","avg":"285.46\u00a0","max":"773.12\u00a0"},
      {"label":"Spurious interrupts","cur":"0.00\u00a0","min":"0.00\u00a0","avg":"0.00\u00a0","max":"0.00\u00a0"},
      {"label":"Performance monitoring interrupts","cur":"0.00\u00a0","min":"0.00\u00a0","avg":"0.00\u00a0","max":"0.00\u00a0"},
      {"label":"IRQ work interrupts","cur":"0.00\u00a0","min":"0.00\u00a0","avg":"0.00\u00a0","max":"0.00\u00a0"},
      {"label":"APIC ICR read retries","cur":"0.00\u00a0","min":"0.00\u00a0","avg":"0.00\u00a0","max":"0.00\u00a0"},
      {"label":"Rescheduling interrupts","cur":"1.42\u00a0","min":"191.22m","avg":"1.31\u00a0","max":"1.92\u00a0"},
      {"label":"Function call interrupts","cur":"87.21\u00a0","min":"67.79\u00a0","avg":"122.34\u00a0","max":"371.24\u00a0"},
      {"label":"TLB shootdowns","cur":"62.49m","min":"0.00\u00a0","avg":"4.86\u00a0","max":"111.14\u00a0"},
      {"label":"Thermal event interrupts","cur":"0.00\u00a0","min":"0.00\u00a0","avg":"0.00\u00a0","max":"0.00\u00a0"},
      {"label":"Threshold APIC interrupts","cur":"0.00\u00a0","min":"0.00\u00a0","avg":"0.00\u00a0","max":"0.00\u00a0"},
      {"label":"Deferred Error APIC interrupts","cur":"0.00\u00a0","min":"0.00\u00a0","avg":"0.00\u00a0","max":"0.00\u00a0"},
      {"label":"Machine check exceptions","cur":"0.00\u00a0","min":"0.00\u00a0","avg":"0.00\u00a0","max":"0.00\u00a0"},
      {"label":"Machine check polls","cur":"7.00m","min":"1.03m","avg":"6.42m","max":"11.16m"},
      {"label":"ERR","cur":"0.00\u00a0","min":"0.00\u00a0","avg":"0.00\u00a0","max":"0.00\u00a0"},
      {"label":"MIS","cur":"0.00\u00a0","min":"0.00\u00a0","avg":"0.00\u00a0","max":"0.00\u00a0"},
      {"label":"Posted-interrupt notification event","cur":"0.00\u00a0","min":"0.00\u00a0","avg":"0.00\u00a0","max":"0.00\u00a0"},
      {"label":"Nested posted-interrupt event","cur":"0.00\u00a0","min":"0.00\u00a0","avg":"0.00\u00a0","max":"0.00\u00a0"},
      {"label":"Posted-interrupt wakeup event","cur":"0.00\u00a0","min":"0.00\u00a0","avg":"0.00\u00a0","max":"0.00\u00a0"}
    ]
  },
  "layer": [
    {
      "encoding": {
        "x": {
          "field": "t", "type": "temporal",
          "scale": {"domain": [{"year": 2026, "month": 5, "date": 20, "hours": 12, "minutes": 5}, {"year": 2026, "month": 5, "date": 21, "hours": 21, "minutes": 25}]},
          "axis": {
            "tickCount": "hour",
            "labelExpr": "hours(datum.value) % 6 == 0 ? timeFormat(datum.value, '%a %H:%M') : ''",
            "labelOverlap": false, "labelFlush": false,
            "labelFont": "DejaVu Sans", "labelFontSize": 9.4, "labelColor": "#555555", "labelPadding": 4,
            "grid": true, "gridDash": [1, 1],
            "gridColor": {"condition": {"test": "hours(datum.value) % 2 == 0", "value": "#EB9A9A"}, "value": "#CCCCCC"},
            "ticks": false,
            "domainColor": "#A8C8A0",
            "title": "Munin 2.0.57", "titleFont": "DejaVu Sans", "titleFontSize": 7.7, "titleFontWeight": "normal", "titleColor": "#C4C4C4",
            "titleX": 181, "titleY": 516, "titleAlign": "center", "titleBaseline": "middle"
          }
        },
        "y": {
          "field": "v", "type": "quantitative",
          "scale": {"type": "log", "domain": [0.00035, 1740], "clamp": true},
          "axis": {
            "values": [0.0004,0.0005,0.0006,0.0007,0.0008,0.0009,0.001,0.002,0.003,0.004,0.005,0.006,0.007,0.008,0.009,0.01,0.02,0.03,0.04,0.05,0.06,0.07,0.08,0.09,0.1,0.2,0.3,0.4,0.5,0.6,0.7,0.8,0.9,1,2,3,4,5,6,7,8,9,10,20,30,40,50,60,70,80,90,100,200,300,400,500,600,700,800,900,1000],
            "labelExpr": "abs(log(datum.value)/LN10 - round(log(datum.value)/LN10)) < 0.001 ? '1e' + (datum.value >= 1 ? '+0' : '-0') + abs(round(log(datum.value)/LN10)) : ''",
            "labelOverlap": false, "labelFlush": false,
            "labelFont": "DejaVu Sans", "labelFontSize": 9.4, "labelColor": "#555555", "labelPadding": 7,
            "grid": true, "gridDash": [1, 1],
            "gridColor": {"condition": {"test": "abs(log(datum.value)/LN10 - round(log(datum.value)/LN10)) < 0.001", "value": "#EB9A9A"}, "value": "#CCCCCC"},
            "ticks": false,
            "domainColor": "#CFD6F8",
            "title": "interrupts / second", "titleFont": "DejaVu Sans", "titleFontSize": 9.7, "titleFontWeight": "normal", "titleColor": "#555555", "titlePadding": 12
          }
        },
        "color": {
          "field": "series", "type": "nominal",
          "scale": {"domain": ["v0","ah","r0","r1","rx0","rx1","lt","rs","fc","tlb","mc"], "range": ["#00487D","#6B006B","#B30000","#BEBEBE","#80FF80","#80C9FF","#AA80FF","#00FFCC","#CC6699","#999900","#330099"]},
          "legend": null
        }
      },
      "layer": [
        {"data": {"name": "flat"}, "transform": [{"fold": ["v0","ah"], "as": ["series","v"]}], "mark": {"type": "line", "strokeWidth": 1}},
        {"data": {"name": "main"}, "transform": [{"fold": ["r0","r1","rx0","rx1","lt","rs","fc","tlb","mc"], "as": ["series","v"]}], "mark": {"type": "line", "strokeWidth": 1}}
      ]
    },
    {
      "data": {"name": "table"},
      "encoding": {
        "y": {
          "field": "label", "type": "nominal",
          "scale": {"type": "point", "padding": 0, "range": [200.7, 680.7], "domain": [
            "Cur:",
            "2-edge\u00a0\u00a0\u00a0\u00a0\u00a0\u00a0timer",
            "1-edge\u00a0\u00a0\u00a0\u00a0\u00a0\u00a0i8042",
            "6-edge\u00a0\u00a0\u00a0\u00a0\u00a0\u00a0floppy",
            "8-edge\u00a0\u00a0\u00a0\u00a0\u00a0\u00a0rtc0",
            "9-fasteoi\u00a0\u00a0\u00a0acpi",
            "11-fasteoi\u00a0\u00a0\u00a0uhci_hcd:usb1",
            "12-edge\u00a0\u00a0\u00a0\u00a0\u00a0\u00a0i8042",
            "14-edge\u00a0\u00a0\u00a0\u00a0\u00a0\u00a0ata_piix",
            "15-edge\u00a0\u00a0\u00a0\u00a0\u00a0\u00a0ata_piix",
            "49152-edge\u00a0\u00a0\u00a0\u00a0\u00a0\u00a0virtio0-config",
            "49153-edge\u00a0\u00a0\u00a0\u00a0\u00a0\u00a0virtio0-virtqueues",
            "131072-edge\u00a0\u00a0\u00a0\u00a0\u00a0\u00a0virtio1-config",
            "131073-edge\u00a0\u00a0\u00a0\u00a0\u00a0\u00a0virtio1-virtqueues",
            "114688-edge\u00a0\u00a0\u00a0\u00a0\u00a0\u00a0ahci[0000:00:07.0]",
            "163840-edge\u00a0\u00a0\u00a0\u00a0\u00a0\u00a0virtio2-config",
            "163841-edge\u00a0\u00a0\u00a0\u00a0\u00a0\u00a0virtio2-req.0",
            "163842-edge\u00a0\u00a0\u00a0\u00a0\u00a0\u00a0virtio2-req.1",
            "294912-edge\u00a0\u00a0\u00a0\u00a0\u00a0\u00a0ens18-rxtx-0",
            "294913-edge\u00a0\u00a0\u00a0\u00a0\u00a0\u00a0ens18-rxtx-1",
            "294914-edge\u00a0\u00a0\u00a0\u00a0\u00a0\u00a0ens18-event-2",
            "Non-maskable interrupts",
            "Local timer interrupts",
            "Spurious interrupts",
            "Performance monitoring interrupts",
            "IRQ work interrupts",
            "APIC ICR read retries",
            "Rescheduling interrupts",
            "Function call interrupts",
            "TLB shootdowns",
            "Thermal event interrupts",
            "Threshold APIC interrupts",
            "Deferred Error APIC interrupts",
            "Machine check exceptions",
            "Machine check polls",
            "ERR",
            "MIS",
            "Posted-interrupt notification event",
            "Nested posted-interrupt event",
            "Posted-interrupt wakeup event",
            "Last update"
          ]},
          "axis": {
            "orient": "right", "domain": false, "ticks": false, "labels": false, "grid": false,
            "title": "RRDTOOL / TOBI OETIKER", "titleAngle": 90, "titleX": 21.5, "titleY": 25.5,
            "titleAlign": "center", "titleBaseline": "middle",
            "titleFont": "DejaVu Sans", "titleFontSize": 7.4, "titleFontWeight": "normal", "titleColor": "#C4C4C4"
          }
        }
      },
      "layer": [
        {
          "layer": [
            {
              "mark": {"type": "square", "size": 36, "filled": true},
              "encoding": {
                "x": {"datum": "swatch", "type": "nominal", "scale": {"type": "point", "domain": ["swatch", "label"], "range": [-50, -40.3], "padding": 0}, "axis": null},
                "color": {"field": "label", "type": "nominal", "sort": null, "legend": null, "scale": {"range": ["#00CC00","#0066B3","#FF8000","#FFCC00","#330099","#990099","#CCFF00","#FF0000","#808080","#008F00","#00487D","#B35A00","#B38F00","#6B006B","#8FB300","#B30000","#BEBEBE","#80FF80","#80C9FF","#FFC080","#FFE680","#AA80FF","#EE00CC","#FF8080","#666600","#FFBFFF","#00FFCC","#CC6699","#999900","#00CC00","#0066B3","#FF8000","#FFCC00","#330099","#990099","#CCFF00","#FF0000","#808080","#008F00"]}}
              }
            },
            {
              "mark": {"type": "text", "align": "left", "baseline": "middle", "font": "DejaVu Sans Mono", "fontSize": 9.9, "color": "#555555"},
              "encoding": {
                "x": {"datum": "label", "type": "nominal", "axis": null},
                "text": {"field": "label"}
              }
            }
          ]
        },
        {
          "layer": [
            {
              "transform": [{"fold": ["cur", "min", "avg", "max"], "as": ["stat", "val"]}],
              "mark": {"type": "text", "align": "right", "baseline": "middle", "font": "DejaVu Sans Mono", "fontSize": 9.9, "color": "#555555"},
              "encoding": {
                "x": {"field": "stat", "type": "nominal", "scale": {"type": "point", "domain": ["cur", "min", "avg", "max"], "range": [234.3, 415.7], "padding": 0}, "axis": null},
                "text": {"field": "val"}
              }
            },
            {
              "data": {"values": [{"stat": "cur", "h": "Cur:"}, {"stat": "min", "h": "Min:"}, {"stat": "avg", "h": "Avg:"}, {"stat": "max", "h": "Max:"}]},
              "mark": {"type": "text", "align": "right", "baseline": "middle", "font": "DejaVu Sans Mono", "fontSize": 9.9, "color": "#555555", "dx": -13.5},
              "encoding": {
                "x": {"field": "stat", "type": "nominal", "axis": null},
                "y": {"datum": "Cur:", "type": "nominal"},
                "text": {"field": "h"}
              }
            },
            {
              "data": {"values": [{"u": "Last update: Thu May 21 21:20:47 2026"}]},
              "mark": {"type": "text", "align": "right", "baseline": "middle", "font": "DejaVu Sans Mono", "fontSize": 9.9, "color": "#555555", "dx": 2},
              "encoding": {
                "x": {"datum": "max", "type": "nominal", "axis": null},
                "y": {"datum": "Last update", "type": "nominal"},
                "text": {"field": "u"}
              }
            }
          ]
        }
      ],
      "resolve": {"scale": {"x": "independent"}}
    }
  ],
  "resolve": {"scale": {"x": "independent", "y": "independent", "color": "independent"}}
}
